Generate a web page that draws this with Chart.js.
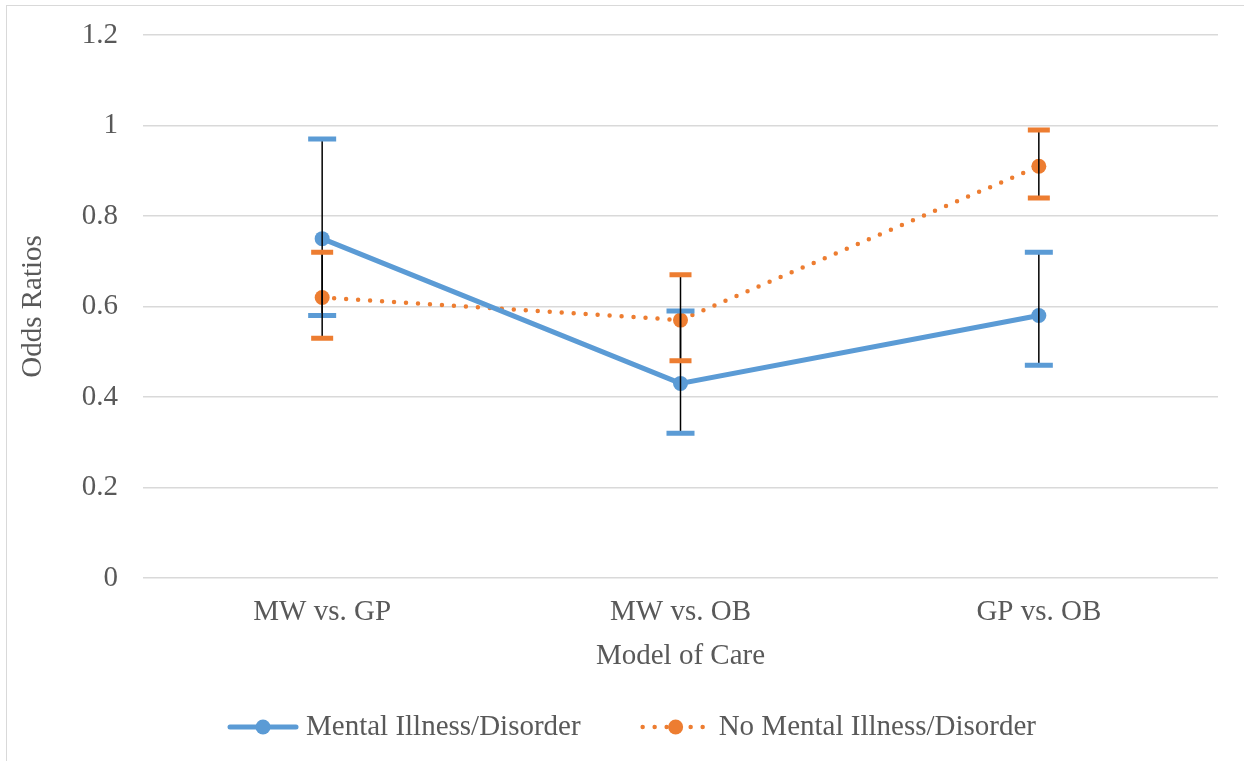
<!DOCTYPE html>
<html>
<head>
<meta charset="utf-8">
<script src="https://cdn.jsdelivr.net/npm/chart.js@4.4.1/dist/chart.umd.min.js"></script>
<style>
  html, body { margin: 0; padding: 0; background: #fff; overflow: hidden; }
  #wrap { position: relative; width: 1244px; height: 761px; }
  #frame { position: absolute; left: 6px; top: 5px; width: 1400px; height: 900px; border: 1.5px solid #d9d9d9; }
  #myChart { position: absolute; left: 0; top: 0; }
</style>
</head>
<body>
<div id="wrap">
  <div id="frame"></div>
  <canvas id="myChart" width="1244" height="761"></canvas>
</div>
<script>
// data
var categories = ['MW vs. GP', 'MW vs. OB', 'GP vs. OB'];
var mentalOR = [0.75, 0.43, 0.58];
var mentalLow = [0.58, 0.32, 0.47];
var mentalHigh = [0.97, 0.59, 0.72];
var noMentalOR = [0.62, 0.57, 0.91];
var noMentalLow = [0.53, 0.48, 0.84];
var noMentalHigh = [0.72, 0.67, 0.99];

var blue = '#5B9BD5';
var orange = '#ED7D31';
var textColor = '#595959';
var fontFamily = '"Liberation Serif", "Times New Roman", serif';
var fontSize = 29;

// error bars: thin black stem, coloured caps
var errorBars = {
  id: 'errorBars',
  afterDatasetsDraw: function(chart) {
    var ctx = chart.ctx;
    var xs = chart.scales.x, ys = chart.scales.y;
    chart.data.datasets.forEach(function(ds) {
      var low = ds.errLow, high = ds.errHigh;
      ctx.save();
      for (var j = 0; j < low.length; j++) {
        var x = xs.getPixelForValue(j);
        var y1 = ys.getPixelForValue(low[j]);
        var y2 = ys.getPixelForValue(high[j]);
        ctx.strokeStyle = '#000';
        ctx.lineWidth = 1.5;
        ctx.beginPath();
        ctx.moveTo(x, y1);
        ctx.lineTo(x, y2);
        ctx.stroke();
        ctx.strokeStyle = ds.borderColor;
        ctx.lineWidth = ds.capThick;
        ctx.beginPath();
        ctx.moveTo(x - ds.capW / 2, y1);
        ctx.lineTo(x + ds.capW / 2, y1);
        ctx.moveTo(x - ds.capW / 2, y2);
        ctx.lineTo(x + ds.capW / 2, y2);
        ctx.stroke();
      }
      ctx.restore();
    });
  }
};

// legend drawn by hand so the spacing matches
var bottomLegend = {
  id: 'bottomLegend',
  afterDraw: function(chart) {
    var ctx = chart.ctx;
    var sampleW = 70, gapText = 8, gapItem = 60;
    var cy = 727;
    ctx.save();
    ctx.font = fontSize + 'px ' + fontFamily;
    var items = chart.data.datasets.map(function(ds) {
      return { ds: ds, w: sampleW + gapText + ctx.measureText(ds.label).width };
    });
    var total = items.reduce(function(s, it) { return s + it.w; }, 0) + gapItem * (items.length - 1);
    var x = chart.width / 2 + 10 - total / 2;
    items.forEach(function(it) {
      var ds = it.ds;
      ctx.strokeStyle = ds.borderColor;
      ctx.fillStyle = ds.borderColor;
      ctx.lineWidth = ds.borderWidth;
      ctx.lineCap = 'round';
      ctx.setLineDash(ds.borderDash || []);
      ctx.beginPath();
      ctx.moveTo(x + 2, cy);
      ctx.lineTo(x + sampleW - 2, cy);
      ctx.stroke();
      ctx.setLineDash([]);
      ctx.beginPath();
      ctx.arc(x + sampleW / 2, cy, ds.pointRadius, 0, Math.PI * 2);
      ctx.fill();
      ctx.fillStyle = textColor;
      ctx.textAlign = 'left';
      ctx.textBaseline = 'middle';
      ctx.fillText(ds.label, x + sampleW + gapText, cy);
      x += it.w + gapItem;
    });
    ctx.restore();
  }
};

var data = {
  labels: categories,
  datasets: [{
    label: 'Mental Illness/Disorder',
    data: mentalOR,
    errLow: mentalLow,
    errHigh: mentalHigh,
    capW: 28,
    capThick: 5,
    borderColor: blue,
    backgroundColor: blue,
    borderWidth: 5,
    pointRadius: 7.5,
    pointHoverRadius: 7.5,
    pointBorderWidth: 0,
    tension: 0
  }, {
    label: 'No Mental Illness/Disorder',
    data: noMentalOR,
    errLow: noMentalLow,
    errHigh: noMentalHigh,
    capW: 22,
    capThick: 5,
    borderColor: orange,
    backgroundColor: orange,
    borderWidth: 4.5,
    borderDash: [0, 12],
    borderCapStyle: 'round',
    pointRadius: 7.5,
    pointHoverRadius: 7.5,
    pointBorderWidth: 0,
    tension: 0
  }]
};

var config = {
  type: 'line',
  data: data,
  options: {
    responsive: false,
    animation: false,
    layout: { padding: { left: 10, right: 26, top: 35, bottom: 87 } },
    scales: {
      x: {
        offset: true,
        afterFit: function(scale) {
          scale.height = 96;
          scale.paddingLeft = 0;
          scale.paddingRight = 0;
        },
        grid: { display: false, drawTicks: false },
        border: { display: false },
        ticks: { color: textColor, font: { family: fontFamily, size: fontSize }, padding: 17 },
        title: { display: true, text: 'Model of Care', color: textColor, font: { family: fontFamily, size: fontSize }, padding: { top: 0, bottom: 0 } }
      },
      y: {
        min: 0,
        max: 1.2,
        afterFit: function(scale) {
          scale.width = 133;
          scale.paddingTop = 0;
          scale.paddingBottom = 0;
        },
        grid: { color: '#d9d9d9', lineWidth: 1.5, drawTicks: false },
        border: { display: false },
        ticks: {
          stepSize: 0.2,
          color: textColor,
          font: { family: fontFamily, size: fontSize },
          padding: 25,
          callback: function(v) { return String(Math.round(v * 10) / 10); }
        },
        title: { display: true, text: 'Odds Ratios', color: textColor, font: { family: fontFamily, size: fontSize }, padding: { top: 6, bottom: 0 } }
      }
    },
    plugins: {
      tooltip: { enabled: false },
      legend: { display: false }
    }
  },
  plugins: [errorBars, bottomLegend]
};

var myChart = new Chart(document.getElementById('myChart'), config);
</script>
</body>
</html>
